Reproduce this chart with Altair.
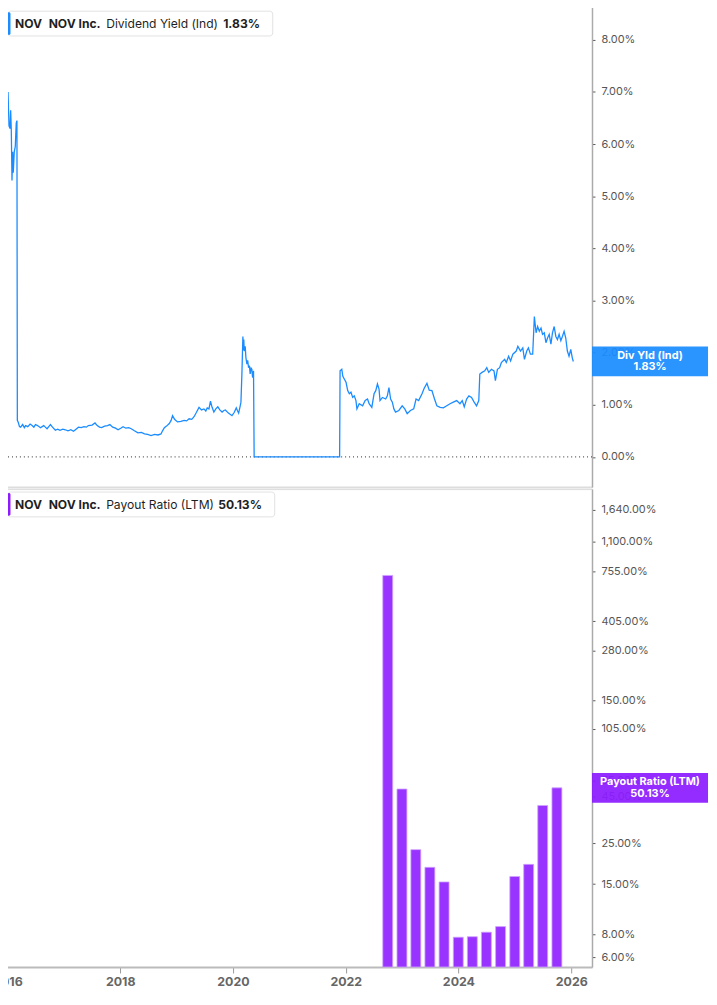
import altair as alt
import pandas as pd

# ---------------- data ----------------
# Dividend Yield (Ind), % — decimal year / value
yld_years = [
    2015.940, 2015.957, 2015.987, 2015.997, 2016.014, 2016.032, 2016.044, 2016.056, 2016.066, 2016.083,
    2016.096, 2016.113, 2016.130, 2016.142, 2016.153, 2016.165, 2016.177, 2016.187, 2016.204, 2016.222,
    2016.239, 2016.251, 2016.258,
    2016.275, 2016.295, 2016.315, 2016.350, 2016.380, 2016.402, 2016.440, 2016.480, 2016.516, 2016.545,
    2016.574, 2016.610, 2016.661, 2016.690, 2016.718, 2016.745, 2016.775, 2016.805, 2016.834, 2016.870,
    2016.920, 2016.960, 2017.000, 2017.050, 2017.093, 2017.140, 2017.190, 2017.236, 2017.280, 2017.323,
    2017.370, 2017.420, 2017.460, 2017.496, 2017.560, 2017.612, 2017.650, 2017.690, 2017.726, 2017.780,
    2017.830, 2017.871, 2017.920, 2017.970, 2018.014, 2018.060, 2018.101, 2018.150, 2018.200, 2018.244,
    2018.300, 2018.360, 2018.420, 2018.476, 2018.530, 2018.590, 2018.650, 2018.710, 2018.763, 2018.790,
    2018.822, 2018.860, 2018.908, 2018.940, 2018.965, 2019.000, 2019.051, 2019.110, 2019.167, 2019.210,
    2019.254, 2019.300, 2019.340, 2019.380, 2019.427, 2019.470, 2019.513, 2019.545, 2019.570, 2019.600,
    2019.627, 2019.655, 2019.686, 2019.720, 2019.755, 2019.790, 2019.829, 2019.860, 2019.887, 2019.940,
    2020.002, 2020.040, 2020.077, 2020.100, 2020.118, 2020.140, 2020.158, 2020.175, 2020.192, 2020.200,
    2020.208, 2020.215, 2020.232, 2020.245, 2020.262, 2020.275, 2020.291, 2020.305, 2020.319, 2020.335,
    2020.348, 2020.358, 2020.365, 2020.377, 2020.388,
    2021.878, 2021.886, 2021.916, 2021.933, 2021.961, 2021.990, 2022.019, 2022.047, 2022.076, 2022.106,
    2022.134, 2022.163, 2022.180, 2022.220, 2022.279, 2022.324, 2022.365, 2022.393, 2022.440, 2022.479,
    2022.509, 2022.538, 2022.566, 2022.583, 2022.625, 2022.682, 2022.711, 2022.739, 2022.768, 2022.798,
    2022.825, 2022.854, 2022.912, 2022.970, 2023.015, 2023.057, 2023.114, 2023.171, 2023.212, 2023.257,
    2023.316, 2023.356, 2023.402, 2023.442, 2023.489, 2023.534, 2023.575, 2023.632, 2023.689, 2023.748,
    2023.805, 2023.862, 2023.921, 2023.978, 2024.018, 2024.053, 2024.094, 2024.134, 2024.180, 2024.225,
    2024.267, 2024.306, 2024.324, 2024.363, 2024.410, 2024.445, 2024.479, 2024.526, 2024.571, 2024.595,
    2024.630, 2024.669, 2024.699, 2024.756, 2024.785, 2024.825, 2024.860, 2024.899, 2024.958, 2024.986,
    2025.032, 2025.072, 2025.101, 2025.141, 2025.170, 2025.205, 2025.245, 2025.274, 2025.304, 2025.331,
    2025.360, 2025.390, 2025.417, 2025.447, 2025.476, 2025.504, 2025.533, 2025.563, 2025.590, 2025.620,
    2025.649, 2025.677, 2025.706, 2025.736, 2025.763, 2025.793, 2025.822, 2025.850, 2025.879, 2025.909,
    2025.936, 2025.954,
]
yld_values = [
    5.60, 5.30, 5.50, 5.35, 6.15, 6.30, 5.90, 6.10, 6.50, 6.60,
    7.00, 6.35, 6.30, 6.65, 6.25, 5.30, 5.85, 5.45, 5.85, 5.95,
    6.40, 6.45, 0.70,
    0.66, 0.58, 0.57, 0.62, 0.56, 0.60, 0.58, 0.63, 0.60, 0.57,
    0.62, 0.60, 0.56, 0.58, 0.60, 0.57, 0.54, 0.58, 0.62, 0.57,
    0.51, 0.53, 0.51, 0.53, 0.52, 0.50, 0.52, 0.49, 0.53, 0.57,
    0.56, 0.58, 0.57, 0.60, 0.61, 0.65, 0.60, 0.57, 0.56, 0.59,
    0.60, 0.62, 0.57, 0.55, 0.52, 0.55, 0.58, 0.55, 0.56, 0.54,
    0.50, 0.46, 0.47, 0.44, 0.43, 0.41, 0.43, 0.42, 0.44, 0.50,
    0.56, 0.59, 0.64, 0.70, 0.79, 0.72, 0.67, 0.68, 0.70, 0.69,
    0.73, 0.72, 0.77, 0.85, 0.95, 0.90, 0.92, 0.88, 0.94, 0.92,
    1.07, 0.95, 0.86, 0.92, 0.96, 0.90, 0.86, 0.89, 0.90, 0.84,
    0.79, 0.85, 0.94, 0.88, 0.84, 0.95, 1.05, 1.60, 2.31, 2.05,
    2.25, 2.03, 2.12, 1.90, 1.78, 1.85, 1.71, 1.75, 1.59, 1.70,
    1.68, 1.55, 1.52, 1.65, 0.00,
    0.00, 1.65, 1.68, 1.55, 1.49, 1.43, 1.27, 1.21, 1.24, 1.14,
    1.17, 1.08, 0.92, 1.02, 0.98, 1.08, 1.11, 1.02, 0.95, 1.21,
    1.27, 1.40, 1.30, 1.08, 1.14, 1.11, 1.17, 1.33, 1.11, 1.05,
    0.92, 0.86, 0.89, 0.98, 0.92, 0.83, 0.89, 0.92, 1.11, 1.08,
    1.21, 1.32, 1.41, 1.28, 1.27, 1.11, 0.98, 0.95, 0.94, 0.98,
    1.02, 1.05, 1.08, 1.02, 1.08, 0.96, 1.11, 1.17, 1.14, 1.05,
    0.98, 1.08, 1.59, 1.62, 1.65, 1.71, 1.62, 1.68, 1.65, 1.46,
    1.68, 1.71, 1.81, 1.87, 1.81, 1.93, 1.84, 1.97, 2.03, 2.12,
    2.03, 2.09, 1.87, 2.03, 2.09, 1.97, 1.97, 2.69, 2.38, 2.50,
    2.41, 2.47, 2.35, 2.38, 2.19, 2.28, 2.35, 2.16, 2.38, 2.50,
    2.31, 2.25, 2.35, 2.23, 2.31, 2.41, 2.28, 2.03, 1.93, 2.06,
    1.90, 1.83,
]

# Payout Ratio (LTM), % — quarterly
payout_dates = ["2022-09-30", "2022-12-31", "2023-03-31", "2023-06-30", "2023-09-30",
                "2023-12-31", "2024-03-31", "2024-06-30", "2024-09-30", "2024-12-31",
                "2025-03-31", "2025-06-30", "2025-09-30"]
payout_values = [720, 49.4, 23.1, 18.5, 15.4, 7.7, 7.75, 8.2, 8.8, 16.5, 19.2, 40.2, 50.13]

yield_ticks = [0, 1, 2, 3, 4, 5, 6, 7, 8]
payout_ticks = [6, 8, 15, 25, 45, 55, 105, 150, 280, 405, 755, 1100, 1640]
year_ticks = [2016, 2018, 2020, 2022, 2024, 2026]
x_range_years = [2015.94, 2026.28]
yield_domain = [-0.58, 8.663]
payout_domain = [5.3, 2126]


def dec_to_ts(y):
    yr = int(y)
    start = pd.Timestamp(year=yr, month=1, day=1)
    end = pd.Timestamp(year=yr + 1, month=1, day=1)
    return start + (end - start) * (y - yr)


df_yld = pd.DataFrame({"date": [dec_to_ts(y) for y in yld_years], "value": yld_values})
df_pay = pd.DataFrame({"date": pd.to_datetime(payout_dates), "value": payout_values,
                       "base": [payout_domain[0]] * len(payout_values)})
df_yld_last = pd.DataFrame({"value": [yld_values[-1]]})
df_pay_last = pd.DataFrame({"value": [payout_values[-1]]})
df_zero = pd.DataFrame({"value": [0]})
df_one = pd.DataFrame({"k": [0]})

x_domain = [dec_to_ts(v).strftime("%Y-%m-%dT%H:%M:%S") for v in x_range_years]

BLUE = "#1a8cff"
PURPLE = "#9933ff"
PURPLE_BOX = "#8c1cff"
FONT = "Inter"
W = 598
H1 = 486
H2 = 482
BOX_W = 117
BOX_CX = W + BOX_W / 2

x_scale = alt.Scale(domain=x_domain)

# ---------------- top pane: dividend yield ----------------
x_top = alt.X("date:T", scale=x_scale,
              axis=alt.Axis(labels=False, ticks=False, grid=False, title=None,
                            domainColor="#dddddd", domainWidth=2))
y_top = alt.Y("value:Q",
              scale=alt.Scale(domain=yield_domain, nice=False, zero=False),
              axis=alt.Axis(orient="right", values=yield_ticks, grid=False, title=None,
                            labelExpr="format(datum.value, '.2f') + '%'",
                            labelColor="#555555", labelFontSize=11, labelFont=FONT,
                            tickColor="#555555", tickSize=3, labelPadding=6,
                            domainColor="#aaaaaa", domainWidth=1.5))

zero_rule = alt.Chart(df_zero).mark_rule(color="#555555", strokeDash=[1, 3], strokeWidth=1.2).encode(
    y=alt.Y("value:Q", scale=alt.Scale(domain=yield_domain, nice=False, zero=False)))

line = alt.Chart(df_yld).mark_line(color=BLUE, strokeWidth=1.3).encode(x=x_top, y=y_top)


def legend_layers(color, name, value_text, value_x, box_right, y0):
    base = alt.Chart(df_one)
    box = base.mark_rect(fill="white", stroke="#e2e2e2", strokeWidth=1, cornerRadius=3).encode(
        x=alt.value(8.5), x2=alt.value(box_right), y=alt.value(y0), y2=alt.value(y0 + 25))
    accent = base.mark_rect(fill=color, cornerRadius=1.5).encode(
        x=alt.value(8.5), x2=alt.value(11.5), y=alt.value(y0 + 1), y2=alt.value(y0 + 24))
    common = dict(align="left", baseline="middle", font=FONT, fontSize=12.2, color="#1f1f1f")
    yc = alt.value(y0 + 12.8)
    t1 = base.mark_text(fontWeight="bold", text="NOV", **common).encode(x=alt.value(16), y=yc)
    t2 = base.mark_text(fontWeight="bold", text="NOV Inc.", **common).encode(x=alt.value(50), y=yc)
    t3 = base.mark_text(fontWeight="normal", text=name, **common).encode(x=alt.value(108), y=yc)
    t4 = base.mark_text(fontWeight="bold", text=value_text, **common).encode(x=alt.value(value_x), y=yc)
    return [box, accent, t1, t2, t3, t4]


def value_box(df, color, line1, line2):
    box = alt.Chart(df).mark_tick(orient="horizontal", thickness=30, size=BOX_W,
                                  color=color, opacity=0.93).encode(
        y=alt.Y("value:Q"), x=alt.value(BOX_CX))
    t1 = alt.Chart(df).mark_text(text=line1, color="white", font=FONT,
                                 fontWeight="bold", fontSize=11, dy=-5.5).encode(
        y=alt.Y("value:Q"), x=alt.value(BOX_CX))
    t2 = alt.Chart(df).mark_text(text=line2, color="white", font=FONT,
                                 fontWeight="bold", fontSize=11, dy=6).encode(
        y=alt.Y("value:Q"), x=alt.value(BOX_CX))
    return [box, t1, t2]


top = alt.layer(zero_rule, line,
                *legend_layers(BLUE, "Dividend Yield (Ind)", "1.83%", 226, 276, 6),
                *value_box(df_yld_last, BLUE, "Div Yld (Ind)", "1.83%")
                ).properties(width=W, height=H1)

# ---------------- bottom pane: payout ratio ----------------
x_bot = alt.X("date:T", scale=x_scale,
              axis=alt.Axis(values=[alt.DateTime(year=y, month=1, date=1) for y in year_ticks],
                            format="%Y", grid=False, title=None, labelFlush=False,
                            labelFont=FONT, labelFontWeight="bold", labelColor="#666666",
                            labelFontSize=12.5, tickColor="#999999", tickSize=6, labelPadding=3,
                            domainColor="#bbbbbb", domainWidth=2))
y_bot = alt.Y("value:Q",
              scale=alt.Scale(type="log", domain=payout_domain, nice=False),
              axis=alt.Axis(orient="right", values=payout_ticks, grid=False, title=None,
                            labelExpr="format(datum.value, ',.2f') + '%'",
                            labelColor="#555555", labelFontSize=11, labelFont=FONT,
                            tickColor="#555555", tickSize=3, labelPadding=6,
                            domainColor="#aaaaaa", domainWidth=1.5))

bars = alt.Chart(df_pay).mark_bar(size=10, color=PURPLE, stroke="#cfa3ff", strokeWidth=0.8).encode(
    x=x_bot, y=y_bot, y2="base:Q")

bottom = alt.layer(bars,
                   *legend_layers(PURPLE_BOX, "Payout Ratio (LTM)", "50.13%", 221, 278, 3),
                   *value_box(df_pay_last, PURPLE_BOX, "Payout Ratio (LTM)", "50.13%")
                   ).properties(width=W, height=H2)

chart = alt.vconcat(top, bottom, spacing=0).properties(
    padding={"left": -16, "top": -8, "right": 0, "bottom": -2}
).configure_view(strokeWidth=0).configure(font=FONT)

chart.save("out.html", embed_options={"renderer": "svg", "actions": False})
